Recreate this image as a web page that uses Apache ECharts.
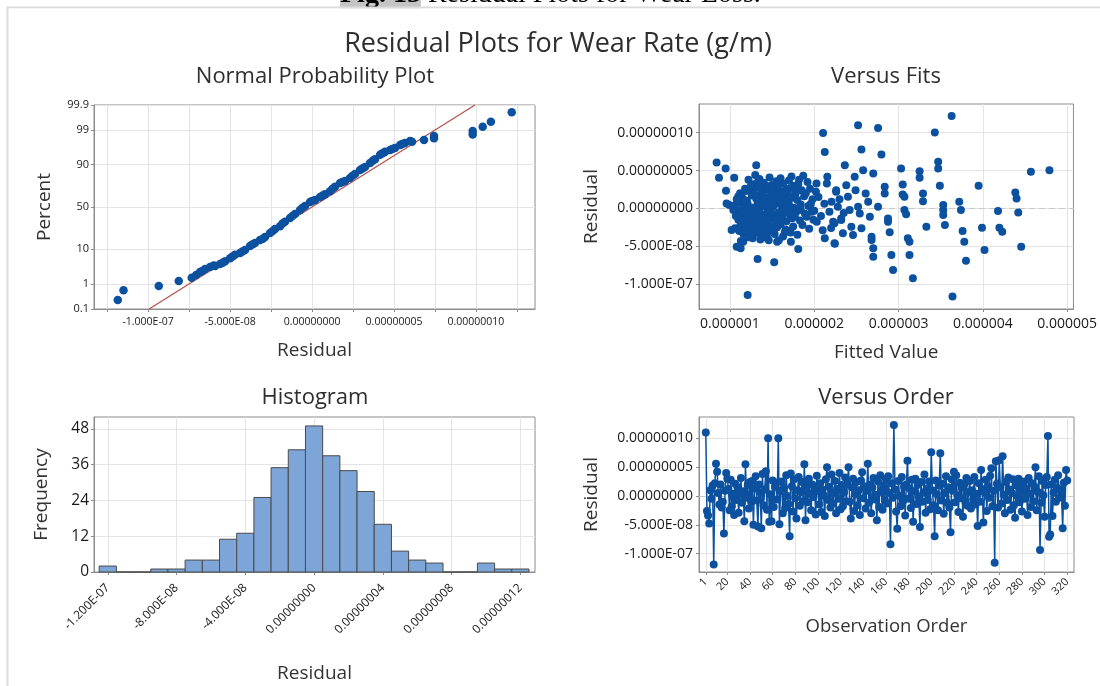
<!DOCTYPE html>
<html>
<head>
<meta charset="utf-8">
<title>Residual Plots for Wear Rate (g/m)</title>
<script src="https://cdn.jsdelivr.net/npm/echarts@6/dist/echarts.min.js"></script>
<style>
  html, body { margin: 0; padding: 0; background: #fff; }
  #chart { width: 1100px; height: 686px; }
</style>
</head>
<body>
<div id="chart"></div>
<script>
// residuals are in units of 1E-08, fitted values in units of 1E-06

// normal probability plot (residual, normal score)
const npResid = [-11.85, -11.50, -9.35, -8.13, -7.34, -7.07, -6.83, -6.52, -6.22, -5.91,
  -5.61, -5.30, -5.00, -4.70, -4.39, -4.09, -3.78, -3.48, -3.17, -2.87,
  -2.56, -2.26, -1.95, -1.65, -1.34, -1.04, -0.73, -0.43, -0.12, 0.18,
  0.49, 0.79, 1.10, 1.40, 1.71, 2.01, 2.32, 2.62, 2.93, 3.23,
  3.54, 3.84, 4.15, 4.45, 4.76, 5.06, 5.37, 5.67, 5.98, 6.83,
  7.44, 7.44, 9.80, 9.80, 10.41, 10.91, 12.18,
  -6.70, -6.00, -5.45, -4.85, -4.25, -3.62, -3.00, -2.40, -1.80, -1.20,
  -0.60, 0.00, 0.65, 1.25, 1.85, 2.45, 3.08, 3.70, 4.30, 4.90, 5.50, 6.10];
const npScore = [-2.82, -2.52, -2.39, -2.24, -2.14, -2.06, -1.97, -1.88, -1.82, -1.79,
  -1.73, -1.64, -1.55, -1.45, -1.39, -1.30, -1.18, -1.09, -1.00, -0.91,
  -0.79, -0.67, -0.58, -0.45, -0.33, -0.21, -0.09, 0.03, 0.15, 0.21,
  0.30, 0.39, 0.48, 0.61, 0.73, 0.79, 0.88, 1.00, 1.12, 1.21,
  1.33, 1.45, 1.58, 1.67, 1.73, 1.79, 1.88, 1.94, 2.00, 2.03,
  2.15, 2.08, 2.30, 2.20, 2.43, 2.58, 2.87,
  -1.94, -1.77, -1.69, -1.50, -1.35, -1.13, -0.96, -0.73, -0.50, -0.27,
  -0.03, 0.18, 0.35, 0.55, 0.76, 0.94, 1.17, 1.40, 1.63, 1.76, 1.91, 1.98];
const fitLineResid = [-9.94, 9.94];
const fitLineScore = [-3.09, 3.09];
const percentTickZ = [-3.09, -2.326, -1.282, 0, 1.282, 2.326, 3.09];
const percentTickLabels = ['0.1', '1', '10', '50', '90', '99', '99.9'];
const npXGrid = [-12.5, -10, -7.5, -5, -2.5, 0, 2.5, 5, 7.5, 10, 12.5];

// residual axis ticks (shared)
const residTicks = [-10, -5, 0, 5, 10];
const residTickLabels = ['-1.000E-07', '-5.000E-08', '0.00000000', '0.00000005', '0.00000010'];

// versus fits [fitted value, residual]
const fitsPoints = [
  [0.842, 6.07], [0.870, 4.04], [0.949, 5.28], [0.953, 2.32], [1.051, 4.04], [1.312, 5.71], [0.960, 0.66], [0.992, 0.44],
  [1.04, -0.22], [1.02, -2.86], [1.06, -2.64], [1.08, -5.07], [1.127, -5.28], [1.158, -4.41], [1.328, -6.69], [1.525, -7.12],
  [1.21, -11.44], [2.105, 9.97], [2.125, 7.47], [2.363, 5.71], [2.244, -4.67], [2.125, -3.96], [1.723, -4.41], [1.81, -5.37],
  [1.71, -2.99], [1.56, -4.41], [1.47, -3.09], [1.27, -3.96], [2.027, 3.30], [2.15, 3.30], [2.155, 4.17], [2.26, 2.19],
  [2.28, 0.21], [2.32, -1.32], [2.24, -1.98], [2.03, -1.77], [1.97, -0.45], [2.18, -0.45],
  [2.05, 1.5], [2.08, -1.0], [2.12, 0.6], [2.20, -2.6], [2.30, 1.2], [2.02, 2.2], [2.10, -2.9], [2.35, -0.6],
  // dense cluster
  [1.22, 3.8], [1.28, 3.2], [1.35, 3.9], [1.40, 3.4], [1.47, 4.1], [1.55, 3.6], [1.60, 4.0], [1.63, 3.3],
  [1.70, 3.7], [1.76, 3.0], [1.82, 3.8], [1.87, 4.3], [1.92, 3.5], [1.30, 4.4], [1.52, 2.9],
  [1.12, 2.0], [1.18, 2.6], [1.25, 2.3], [1.32, 2.8], [1.38, 2.1], [1.44, 2.5], [1.50, 2.0], [1.57, 2.6],
  [1.64, 2.2], [1.72, 2.7], [1.78, 2.0], [1.85, 2.4], [1.95, 2.6], [1.10, 1.6], [1.66, 1.5],
  [1.08, 1.2], [1.14, 1.5], [1.20, 1.0], [1.26, 1.7], [1.31, 1.3], [1.36, 1.8], [1.42, 1.1], [1.48, 1.6],
  [1.53, 1.2], [1.59, 1.9], [1.68, 1.0], [1.74, 1.4], [1.80, 1.1], [1.88, 1.6], [1.98, 1.2],
  [1.06, 0.4], [1.11, 0.8], [1.16, 0.2], [1.21, 0.6], [1.27, 0.1], [1.33, 0.7], [1.39, 0.3], [1.45, 0.9],
  [1.51, 0.2], [1.56, 0.6], [1.62, 0.3], [1.69, 0.8], [1.76, 0.1], [1.84, 0.5], [1.93, 0.3],
  [1.09, -0.6], [1.13, -0.2], [1.19, -0.9], [1.24, -0.4], [1.29, -0.7], [1.34, -0.1], [1.40, -0.8], [1.46, -0.3],
  [1.52, -0.9], [1.58, -0.5], [1.65, -0.2], [1.71, -0.8], [1.79, -0.4], [1.89, -0.7], [2.00, -0.3],
  [1.10, -1.5], [1.15, -1.2], [1.20, -1.8], [1.26, -1.4], [1.31, -1.9], [1.37, -1.1], [1.43, -1.6], [1.49, -1.3],
  [1.55, -1.9], [1.61, -1.2], [1.67, -1.7], [1.74, -1.3], [1.83, -1.6], [1.91, -1.1], [1.57, -1.5],
  [1.12, -2.4], [1.17, -2.9], [1.23, -2.2], [1.28, -2.7], [1.34, -2.4], [1.41, -2.9], [1.47, -2.3], [1.54, -2.6],
  [1.60, -2.1], [1.66, -2.8], [1.75, -2.4], [1.86, -2.2], [1.94, -2.7],
  [1.16, -3.4], [1.22, -3.8], [1.30, -3.3], [1.38, -3.6], [1.44, -3.9], [1.53, -3.4], [1.63, -3.7], [1.72, -3.2],
  [1.80, -3.5], [1.36, -4.1], [1.58, -4.2],
  [1.18, 0.0], [1.23, -0.1], [1.37, 1.0], [1.44, 0.1], [1.49, -0.6], [1.30, -1.0], [1.41, 0.5], [1.55, 1.4],
  [1.26, 2.0], [1.19, -2.0], [1.33, -3.0], [1.46, -2.0], [1.62, -0.9], [1.70, 0.5], [1.50, 3.1], [1.39, 2.6],
  [1.25, 3.0], [1.17, 1.1],
  [1.14, -0.5], [1.21, -1.3], [1.27, -2.0], [1.32, 0.3], [1.35, -0.5], [1.42, -2.2], [1.45, 1.4], [1.48, -1.0],
  [1.52, 0.6], [1.58, 1.0], [1.61, -0.4], [1.64, 0.8], [1.67, 2.6], [1.73, -0.2], [1.77, -1.0], [1.81, 3.2],
  [1.84, -0.2], [1.90, 2.0], [1.96, 0.6], [1.99, -1.5], [1.15, -1.9], [1.24, -3.0], [1.29, 1.9], [1.36, -2.0],
  [1.40, 1.6], [1.43, 3.0], [1.51, -3.0], [1.56, -2.5], [1.59, 3.2], [1.65, -3.2], [1.69, 1.9], [1.73, 4.2],
  [1.78, 2.7], [1.07, -1.0], [1.11, -3.0], [1.13, -4.3], [1.19, 2.3], [1.33, 3.5], [1.46, -4.2], [1.62, 1.6],
  // higher fitted values
  [2.52, 10.99], [2.757, 10.64], [2.56, 7.78], [2.797, 7.12], [2.58, 5.05], [2.70, 4.62], [2.48, 4.17], [2.38, 3.07],
  [2.26, 2.41], [2.49, 2.41], [2.61, 1.98], [2.40, 1.53], [2.64, 0.87], [2.205, 0.87], [2.757, 0.21], [2.52, 0.21],
  [2.42, -0.22], [2.54, -0.66], [2.66, -1.11], [2.224, -1.77], [2.32, -1.54], [2.44, -2.43], [2.56, -2.64], [2.34, -3.30],
  [2.46, -3.52], [2.68, -3.75], [2.68, -4.18], [2.24, -4.62], [2.70, -5.28], [2.70, -6.39], [2.836, 2.85], [2.836, 1.98],
  [2.875, -1.32], [2.875, -1.77], [2.895, -3.17], [2.915, -6.16], [2.935, -8.14], [3.03, 5.28], [3.05, 3.17], [3.05, 1.85],
  [3.07, 1.53], [3.07, -0.22], [3.09, -0.79], [3.11, -3.96], [3.13, -4.41], [3.13, -6.16], [3.17, -9.24], [3.25, 4.92],
  [3.25, 4.04], [3.29, 1.98], [3.29, 0.96], [3.33, -2.43], [3.43, 10.03], [3.47, 6.15], [3.47, 5.28], [3.49, 2.98],
  [3.53, 0.44], [3.53, -0.22], [3.53, -0.88], [3.55, -2.20], [3.63, 12.22], [3.64, -11.66], [3.72, 0.87], [3.74, -0.22],
  [3.76, -2.99], [3.78, -4.41], [3.80, -6.91], [3.95, 2.98], [3.99, -2.56], [4.02, -5.50], [4.18, -0.36], [4.196, -2.56],
  [4.23, -3.09], [4.385, 2.11], [4.40, 1.32], [4.42, -0.53], [4.455, -5.07], [4.57, 4.83], [4.79, 5.05]
];
const fitTicks = [1, 2, 3, 4, 5];
const fitTickLabels = ['0.000001', '0.000002', '0.000003', '0.000004', '0.000005'];

// histogram, bin centres and counts
const histCenters = [-12, -11, -10, -9, -8, -7, -6, -5, -4, -3, -2, -1, 0, 1, 2, 3, 4, 5, 6, 7, 8, 9, 10, 11, 12];
const histCounts = [2, 0, 0, 1, 1, 4, 4, 11, 13, 25, 35, 41, 49, 39, 34, 27, 16, 7, 4, 3, 0, 0, 3, 1, 1];
const histTicks = [-12, -8, -4, 0, 4, 8, 12];
const histTickLabels = ['-1.200E-07', '-8.000E-08', '-4.000E-08', '0.00000000', '0.00000004', '0.00000008', '0.00000012'];
const freqTicks = [0, 12, 24, 36, 48];
const freqTickLabels = ['0', '12', '24', '36', '48'];

// versus order, residual of observation 1..320
const orderResid = [
  11.0, -2.6, -3.4, -4.8, 1.0, -0.5, 1.8, -11.9, 2.2, 5.6, 4.2, 0.5, -1.5, 2.0, -2.0, -1.0, -6.5, 0.9, 4.0, 3.0,
  1.2, -2.5, 2.8, -1.8, 0.4, -3.3, 2.1, -0.7, 1.5, -2.9, 0.2, 3.1, -1.2, 0.8, -4.4, 5.5, -0.3, 1.9, -2.2, 2.4,
  -1.0, 2.6, -5.0, 1.3, 3.4, -0.8, -5.3, 2.0, 0.6, -5.6, 3.8, -1.6, 1.1, 4.3, -2.4, 10.0, -4.5, 0.3, -4.4, 2.7,
  -1.9, 1.6, 2.3, -0.6, 10.0, -4.9, 0.9, 2.5, -3.0, 1.4, -2.1, 3.6, 0.0, -1.4, -7.0, 3.9, 1.7, -2.7, 2.9, -0.4,
  -3.9, 1.0, 3.3, -1.7, 0.7, 2.4, -0.9, 5.5, -4.2, 1.8, -1.1, 3.0, 0.4, -2.5, 2.0, -0.2, 1.3, -3.2, 3.5, 0.8,
  -1.5, 2.2, -2.8, 1.1, 0.1, -3.5, 2.9, 5.0, -0.7, 1.6, -2.0, 3.7, -1.3, 0.5, 2.6, -3.0, 1.2, -0.5, 4.0, -2.3,
  1.9, -1.8, 0.6, 3.2, -0.9, 2.1, 5.0, -1.0, -3.9, 1.5, 3.0, -2.6, 0.3, 2.4, -1.6, 1.0, -3.3, 2.7, 4.1, -0.4,
  1.7, -2.2, 0.9, 5.6, -1.2, 2.0, -3.0, 1.4, 3.1, -0.6, 0.2, -4.2, 2.5, -1.9, 3.6, 0.7, -2.4, 1.8, -0.8, 2.9,
  -1.3, 3.4, 0.5, -8.4, 2.2, -0.3, 12.3, 1.1, -2.7, -5.7, 2.6, 0.0, -1.8, 3.3, -0.9, 1.6, -3.4, 2.0, 6.1, -0.5,
  1.3, -2.1, 2.8, -4.5, 0.8, 3.0, -1.4, 1.9, -0.2, -5.4, 2.4, -1.0, 0.6, 3.7, -2.9, 1.2, -0.7, 2.5, -2.3, 7.6,
  1.0, -1.6, -7.0, 2.7, 0.3, -2.5, 1.8, 7.4, -0.8, 2.1, -3.1, 0.5, 3.4, -1.2, 1.5, -2.0, -6.3, 2.9, 0.9, 4.2,
  -1.1, 3.6, 0.1, -2.8, 2.3, -0.4, 1.4, -3.6, 2.0, -0.9, 3.1, -1.7, 0.7, 2.6, -2.2, 1.0, -0.6, 3.3, -1.5, 0.4,
  -5.2, 2.2, -1.0, 4.5, 1.2, -4.6, 0.6, 2.8, -2.6, 1.7, -0.3, 3.5, 4.8, -1.8, 0.9, -11.6, 6.0, 2.1, -2.0, 6.2,
  1.5, -1.3, 6.9, 0.2, -3.0, 2.4, -0.7, 3.2, 1.1, -2.4, 0.5, 2.9, -1.6, -3.8, 1.8, 0.0, 3.0, -1.1, 2.0, -2.7,
  0.8, 2.5, -0.5, 1.3, -3.3, 3.1, 0.4, -1.9, 2.2, -0.9, 1.6, 5.0, -2.5, 0.7, 3.4, -9.4, -1.2, 2.6, 0.1, -3.6,
  1.9, 3.3, 10.4, -7.1, -6.7, 2.0, -3.5, 0.6, 2.8, -1.0, 1.4, 3.6, -0.3, 1.1, 0.5, -5.6, 2.3, -1.7, 4.5, 2.7
];
const orderTicks = [1, 20, 40, 60, 80, 100, 120, 140, 160, 180, 200, 220, 240, 260, 280, 300, 320];

const font = 'Open Sans';
const blue = '#0b519f';
const frameGrey = '#8c8c8c';
const titleColor = '#2e2e2e';

// label lookup for custom tick positions
function pick(vals, labels) {
  return function (v) {
    for (let i = 0; i < vals.length; i++) {
      if (Math.abs(vals[i] - v) < 1e-6) return labels[i];
    }
    return '';
  };
}

function valueAxis(o) {
  return {
    type: 'value',
    gridIndex: o.grid,
    min: o.min,
    max: o.max,
    name: o.name,
    nameLocation: 'middle',
    nameGap: o.nameGap,
    nameTextStyle: { fontFamily: font, fontSize: o.nameSize || 19, color: '#333' },
    axisLine: { show: true, onZero: false, lineStyle: { color: frameGrey } },
    axisTick: { show: true, length: 3, customValues: o.gridAt || o.ticks, lineStyle: { color: frameGrey } },
    axisLabel: {
      customValues: o.ticks,
      formatter: pick(o.ticks, o.labels),
      fontFamily: font,
      fontSize: o.fontSize,
      color: '#1a1a1a',
      margin: o.margin,
      rotate: o.rotate || 0
    },
    splitLine: { show: true, lineStyle: { color: '#e4e4e4', width: 1 } }
  };
}

const chart = echarts.init(document.getElementById('chart'), null, { renderer: 'canvas' });

chart.setOption({
  animation: false,
  backgroundColor: '#ffffff',
  graphic: [
    {
      type: 'text', x: 340, y: 9,
      style: {
        text: '{a|Fig. 15} Residual Plots for Wear Loss.',
        fontFamily: 'Liberation Serif', fontSize: 28, fill: '#000',
        verticalAlign: 'bottom',
        rich: { a: { fontWeight: 'bold', fontFamily: 'Liberation Serif', fontSize: 28, backgroundColor: '#c4c4c4' } }
      }
    },
    { type: 'line', shape: { x1: 7, y1: 7.5, x2: 1100, y2: 7.5 }, style: { stroke: '#dcdcdc', lineWidth: 2 } },
    { type: 'rect', shape: { x: 0, y: 8.5, width: 1100, height: 3 }, style: { fill: '#fff' } },
    { type: 'line', shape: { x1: 7.5, y1: 7, x2: 7.5, y2: 686 }, style: { stroke: '#dcdcdc', lineWidth: 2 } },
    { type: 'text', x: 558, y: 44, style: { text: 'Residual Plots for Wear Rate (g/m)', fontFamily: font, fontSize: 27, fill: titleColor, align: 'center', verticalAlign: 'middle' } },
    { type: 'text', x: 315, y: 77, style: { text: 'Normal Probability Plot', fontFamily: font, fontSize: 22, fill: titleColor, align: 'center', verticalAlign: 'middle' } },
    { type: 'text', x: 886, y: 77, style: { text: 'Versus Fits', fontFamily: font, fontSize: 22, fill: titleColor, align: 'center', verticalAlign: 'middle' } },
    { type: 'text', x: 315, y: 398, style: { text: 'Histogram', fontFamily: font, fontSize: 22, fill: titleColor, align: 'center', verticalAlign: 'middle' } },
    { type: 'text', x: 886, y: 398, style: { text: 'Versus Order', fontFamily: font, fontSize: 22, fill: titleColor, align: 'center', verticalAlign: 'middle' } }
  ],
  grid: [
    { left: 94, top: 105, width: 441, height: 204, show: true, borderColor: frameGrey, borderWidth: 1 },
    { left: 699, top: 104, width: 375, height: 205, show: true, borderColor: frameGrey, borderWidth: 1 },
    { left: 94, top: 417, width: 441, height: 155, show: true, borderColor: frameGrey, borderWidth: 1 },
    { left: 699, top: 417, width: 375, height: 155, show: true, borderColor: frameGrey, borderWidth: 1 }
  ],
  xAxis: [
    valueAxis({ grid: 0, min: -13.3, max: 13.6, ticks: residTicks, labels: residTickLabels, gridAt: npXGrid, name: 'Residual', nameGap: 32, fontSize: 10.5, margin: 8 }),
    valueAxis({ grid: 1, min: 0.633, max: 5.075, ticks: fitTicks, labels: fitTickLabels, name: 'Fitted Value', nameGap: 34, fontSize: 14, margin: 8 }),
    valueAxis({ grid: 2, min: -12.8, max: 12.85, ticks: histTicks, labels: histTickLabels, name: 'Residual', nameGap: 92, fontSize: 12, margin: 14, rotate: 45 }),
    valueAxis({ grid: 3, min: -5, max: 326, ticks: orderTicks, labels: orderTicks.map(String), name: 'Observation Order', nameGap: 45, nameSize: 18.5, fontSize: 11, margin: 8, rotate: 45 })
  ],
  yAxis: [
    valueAxis({ grid: 0, min: -3.09, max: 3.09, ticks: percentTickZ, labels: percentTickLabels, name: 'Percent', nameGap: 40, fontSize: 11, margin: 5 }),
    valueAxis({ grid: 1, min: -13.3, max: 13.8, ticks: residTicks, labels: residTickLabels, name: 'Residual', nameGap: 98, fontSize: 14, margin: 6 }),
    valueAxis({ grid: 2, min: 0, max: 52, ticks: freqTicks, labels: freqTickLabels, name: 'Frequency', nameGap: 43, fontSize: 15.5, margin: 5 }),
    valueAxis({ grid: 3, min: -13.2, max: 13.7, ticks: residTicks, labels: residTickLabels, name: 'Residual', nameGap: 98, fontSize: 14, margin: 6 })
  ],
  series: [
    {
      type: 'line',
      xAxisIndex: 0, yAxisIndex: 0,
      data: fitLineResid.map((r, i) => [r, fitLineScore[i]]),
      symbol: 'none',
      lineStyle: { color: '#b5524f', width: 1.3 },
      silent: true,
      z: 1
    },
    {
      type: 'scatter',
      xAxisIndex: 0, yAxisIndex: 0,
      data: npResid.map((r, i) => [r, npScore[i]]),
      symbolSize: 8.5,
      itemStyle: { color: blue, opacity: 1 },
      z: 2
    },
    {
      type: 'scatter',
      xAxisIndex: 1, yAxisIndex: 1,
      data: fitsPoints,
      symbolSize: 8,
      itemStyle: { color: blue, opacity: 1 },
      markLine: {
        z: 1, silent: true, symbol: 'none', label: { show: false },
        lineStyle: { color: '#c8c8c8', type: [6, 4], width: 1.2 },
        data: [{ yAxis: 0 }]
      },
      z: 2
    },
    {
      type: 'custom',
      xAxisIndex: 2, yAxisIndex: 2,
      data: histCenters.map((c, i) => [c, histCounts[i]]),
      renderItem: function (params, api) {
        const c = api.value(0);
        const p0 = api.coord([c - 0.5, api.value(1)]);
        const p1 = api.coord([c + 0.5, 0]);
        return {
          type: 'rect',
          shape: { x: p0[0], y: p0[1], width: p1[0] - p0[0], height: p1[1] - p0[1] },
          style: { fill: '#7da5d7', stroke: '#4a4a4a', lineWidth: 1 }
        };
      },
      z: 2
    },
    {
      type: 'line',
      xAxisIndex: 3, yAxisIndex: 3,
      data: orderResid.map((v, i) => [i + 1, v]),
      symbol: 'circle',
      symbolSize: 8,
      lineStyle: { color: blue, width: 1.5 },
      itemStyle: { color: blue },
      markLine: {
        z: 1, silent: true, symbol: 'none', label: { show: false },
        lineStyle: { color: '#c8c8c8', type: [6, 4], width: 1.2 },
        data: [{ yAxis: 0 }]
      },
      z: 2
    }
  ]
});
</script>
</body>
</html>
